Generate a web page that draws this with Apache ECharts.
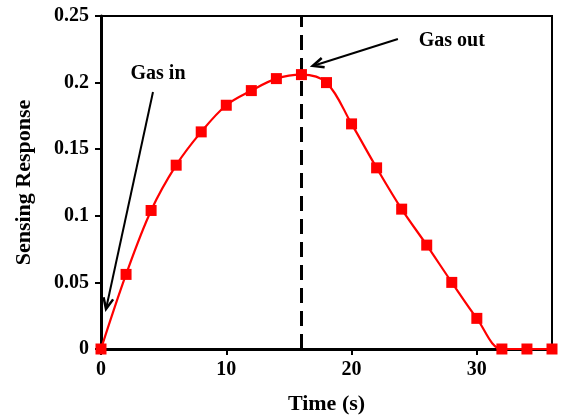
<!DOCTYPE html>
<html>
<head>
<meta charset="utf-8">
<script src="https://cdn.jsdelivr.net/npm/echarts@6/dist/echarts.min.js"></script>
<style>
  html, body { margin: 0; padding: 0; background: #fff; }
  #chart { width: 563px; height: 415px; }
</style>
</head>
<body>
<div id="chart"></div>
<script>
// Sensing response recorded every 2 s during a gas in / gas out cycle
const timeSec = [0, 2, 4, 6, 8, 10, 12, 14, 16, 18, 20, 22, 24, 26, 28, 30, 32, 34, 36];
const response = [0, 0.056, 0.104, 0.138, 0.163, 0.183, 0.194, 0.203, 0.206, 0.200, 0.169,
                  0.136, 0.105, 0.078, 0.050, 0.023, 0, 0, 0];
const xTicks = [0, 10, 20, 30];
const yTicks = [0, 0.05, 0.1, 0.15, 0.2, 0.25];
const gasOutTime = 16;

// Annotations in data coordinates: label position, arrow tail, arrow tip
const gasInNote = { text: 'Gas in', label: [4.55, 0.2065], from: [4.15, 0.193], to: [0.4, 0.030] };
const gasOutNote = { text: 'Gas out', label: [28.0, 0.231], from: [23.7, 0.2327], to: [16.9, 0.2125] };

const FONT = '"Liberation Serif", "Times New Roman", serif';

const chart = echarts.init(document.getElementById('chart'), null, { renderer: 'canvas' });

chart.setOption({
  animation: false,
  backgroundColor: '#ffffff',
  grid: {
    left: 101, right: 11, top: 16, bottom: 66,
    outerBoundsMode: 'none',
    containLabel: false,
    show: true, borderColor: '#000', borderWidth: 2, backgroundColor: 'transparent'
  },
  xAxis: {
    type: 'value',
    min: 0, max: 36, interval: 10,
    name: 'Time (s)',
    nameLocation: 'middle',
    nameGap: 44,
    nameTextStyle: { fontFamily: FONT, fontWeight: 'bold', fontSize: 22, color: '#000' },
    axisLine: { show: true, lineStyle: { color: '#000', width: 3 } },
    axisTick: { show: true, inside: false, length: 6, lineStyle: { color: '#000', width: 2 }, customValues: xTicks },
    axisLabel: { fontFamily: FONT, fontWeight: 'bold', fontSize: 20, color: '#000', margin: 11, customValues: xTicks },
    splitLine: { show: false }
  },
  yAxis: {
    type: 'value',
    min: 0, max: 0.25, interval: 0.05,
    name: 'Sensing Response',
    nameLocation: 'middle',
    nameGap: 66,
    nameTextStyle: { fontFamily: FONT, fontWeight: 'bold', fontSize: 22, color: '#000' },
    axisLine: { show: true, lineStyle: { color: '#000', width: 3 } },
    axisTick: { show: true, inside: false, length: 6, lineStyle: { color: '#000', width: 2 }, customValues: yTicks },
    axisLabel: { fontFamily: FONT, fontWeight: 'bold', fontSize: 20, color: '#000', margin: 12, customValues: yTicks },
    splitLine: { show: false }
  },
  series: [{
    type: 'line',
    data: timeSec.map((t, i) => [t, response[i]]),
    smooth: 0.35,
    clip: false,
    symbol: 'rect',
    symbolSize: 11,
    lineStyle: { color: '#ff0000', width: 2.2 },
    itemStyle: { color: '#ff0000' },
    z: 5,
    markLine: {
      silent: true,
      symbol: ['none', 'none'],
      label: { show: false },
      lineStyle: { color: '#000', width: 3, type: [15, 8] },
      data: [{ xAxis: gasOutTime }],
      z: 3
    }
  }]
});

// Draw annotation arrows (open heads) and their labels
function arrowGraphics(note) {
  const a = chart.convertToPixel({ gridIndex: 0 }, note.from);
  const b = chart.convertToPixel({ gridIndex: 0 }, note.to);
  const lbl = chart.convertToPixel({ gridIndex: 0 }, note.label);
  const ang = Math.atan2(b[1] - a[1], b[0] - a[0]);
  const headLen = 12, spread = 0.42;
  const p1 = [b[0] - headLen * Math.cos(ang - spread), b[1] - headLen * Math.sin(ang - spread)];
  const p2 = [b[0] - headLen * Math.cos(ang + spread), b[1] - headLen * Math.sin(ang + spread)];
  return [
    { type: 'line', shape: { x1: a[0], y1: a[1], x2: b[0], y2: b[1] },
      style: { stroke: '#000', lineWidth: 2 }, z: 10 },
    { type: 'polyline', shape: { points: [p1, b, p2] },
      style: { stroke: '#000', lineWidth: 2.5, fill: null }, z: 10 },
    { type: 'text', x: lbl[0], y: lbl[1],
      style: { text: note.text, fontFamily: FONT, fontWeight: 'bold', fontSize: 20,
               fill: '#000', align: 'center', verticalAlign: 'middle' }, z: 10 }
  ];
}

chart.setOption({ graphic: [].concat(arrowGraphics(gasInNote), arrowGraphics(gasOutNote)) });
</script>
</body>
</html>
